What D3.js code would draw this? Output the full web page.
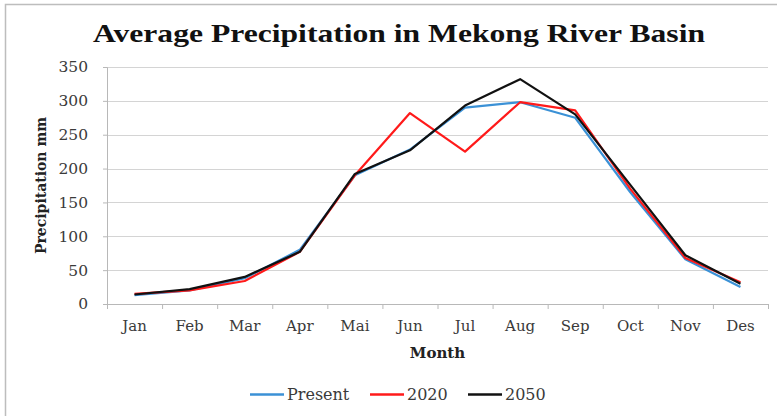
<!DOCTYPE html>
<html>
<head>
<meta charset="utf-8">
<script src="https://cdn.jsdelivr.net/npm/d3@7"></script>
<style>
  html, body { margin: 0; padding: 0; background: #fff; }
  svg { display: block; }
</style>
</head>
<body>
<svg id="chart" width="777" height="416"></svg>
<script>
// Monthly average precipitation (mm) in the Mekong River Basin
const months = ["Jan", "Feb", "Mar", "Apr", "Mai", "Jun", "Jul", "Aug", "Sep", "Oct", "Nov", "Des"];
const present = [13, 20, 38, 80, 190, 228, 290, 298, 275, 165, 66, 25];
const y2020   = [15, 20, 34, 77, 190, 282, 225, 298, 286, 170, 68, 32];
const y2050   = [14, 22, 40, 77, 192, 227, 293, 332, 280, 176, 72, 30];
const yTicks  = [0, 50, 100, 150, 200, 250, 300, 350];

const seriesNames  = ["Present", "2020", "2050"];
const seriesValues = [present, y2020, y2050];
const seriesColors = ["#3b91d6", "#ff1a1a", "#111111"];

const svg = d3.select("#chart");
const W = 777, H = 416;
const margin = { left: 107, right: 9, top: 67, bottom: 112 };
const plotW = W - margin.left - margin.right;
const plotH = H - margin.top - margin.bottom;

const serif = "'Liberation Serif', 'DejaVu Serif', serif";
const labelFont = "'DejaVu Serif', 'Liberation Serif', serif";

// Chart frame
svg.append("rect")
  .attr("x", 5.5).attr("y", 4.5)
  .attr("width", W + 10).attr("height", H + 10)
  .attr("fill", "#fff").attr("stroke", "#bdbdbd").attr("stroke-width", 1.5);

// Title
svg.append("text")
  .attr("x", 399).attr("y", 42)
  .attr("text-anchor", "middle")
  .attr("font-family", serif)
  .attr("font-weight", "bold")
  .attr("font-size", 26)
  .attr("fill", "#111")
  .attr("textLength", 612)
  .attr("lengthAdjust", "spacingAndGlyphs")
  .text("Average Precipitation in Mekong River Basin");

const g = svg.append("g").attr("transform", `translate(${margin.left},${margin.top})`);

const x = d3.scaleBand().domain(months).range([0, plotW]).padding(0);
const y = d3.scaleLinear().domain([0, 350]).range([plotH, 0]);

// Horizontal gridlines
g.append("g").selectAll("line")
  .data(yTicks.filter(t => t > 0))
  .join("line")
  .attr("x1", 0).attr("x2", plotW)
  .attr("y1", d => Math.round(y(d)) + 0.5).attr("y2", d => Math.round(y(d)) + 0.5)
  .attr("stroke", "#d4d4d4").attr("stroke-width", 1.2);

// Y axis
const yAxis = g.append("g")
  .call(d3.axisLeft(y).tickValues(yTicks).tickSize(4).tickPadding(15));
yAxis.select(".domain").attr("stroke", "#b8b8b8");
yAxis.selectAll(".tick line").attr("stroke", "#b8b8b8");
yAxis.selectAll("text")
  .attr("font-family", labelFont).attr("font-size", 15.5).attr("fill", "#3a3a3a");

// X axis with ticks at category boundaries
const xAxis = g.append("g")
  .attr("transform", `translate(0,${plotH})`)
  .call(d3.axisBottom(x).tickSize(0).tickPadding(16));
xAxis.select(".domain").attr("stroke", "#b8b8b8");
xAxis.selectAll("text")
  .attr("font-family", labelFont).attr("font-size", 15).attr("fill", "#3a3a3a");
xAxis.append("g").selectAll("line")
  .data(months.map((m, i) => i).concat([months.length]))
  .join("line")
  .attr("x1", i => i * x.step() + 0.5).attr("x2", i => i * x.step() + 0.5)
  .attr("y1", 0).attr("y2", 5)
  .attr("stroke", "#b8b8b8");

// Axis titles
svg.append("text")
  .attr("x", margin.left + plotW / 2).attr("y", 358)
  .attr("text-anchor", "middle")
  .attr("font-family", labelFont).attr("font-weight", "bold").attr("font-size", 15)
  .attr("fill", "#222")
  .text("Month");

svg.append("text")
  .attr("transform", `translate(46,${margin.top + plotH / 2}) rotate(-90)`)
  .attr("text-anchor", "middle")
  .attr("font-family", labelFont).attr("font-weight", "bold").attr("font-size", 14)
  .attr("fill", "#222")
  .text("Precipitation mm");

// Series lines
const line = d3.line()
  .x((d, i) => x(months[i]) + x.bandwidth() / 2)
  .y(d => y(d));

seriesValues.forEach((vals, k) => {
  g.append("path")
    .datum(vals)
    .attr("d", line)
    .attr("fill", "none")
    .attr("stroke", seriesColors[k])
    .attr("stroke-width", 2.2)
    .attr("stroke-linejoin", "round");
});

// Legend
const legendX = [250, 370, 468];
const legend = svg.append("g");
seriesNames.forEach((name, k) => {
  const lg = legend.append("g").attr("transform", `translate(${legendX[k]},394.5)`);
  lg.append("line")
    .attr("x1", 0).attr("x2", 34).attr("y1", 0).attr("y2", 0)
    .attr("stroke", seriesColors[k]).attr("stroke-width", 2.5);
  lg.append("text")
    .attr("x", 37).attr("y", 5.5)
    .attr("font-family", labelFont).attr("font-size", 16).attr("fill", "#3a3a3a")
    .text(name);
});
</script>
</body>
</html>
